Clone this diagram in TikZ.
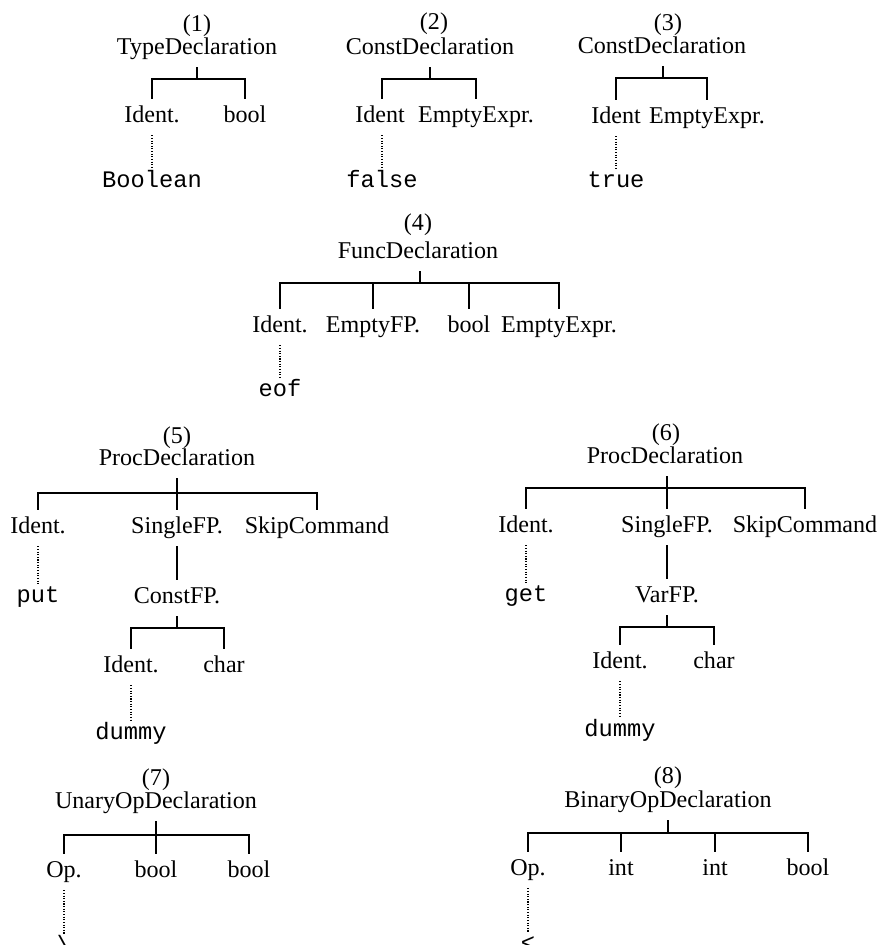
\documentclass[tikz,border=0pt]{standalone}
\usepackage{fontspec}
\setmainfont{Liberation Serif}
\setmonofont{Liberation Mono}

\tikzset{
  cat/.style={font=\fontsize{13.7}{16}\selectfont, inner xsep=1pt, inner ysep=2pt,
    text height=11.6pt, text depth=4.8pt},
  leaf/.style={font=\fontsize{13.5}{16}\selectfont\ttfamily, inner xsep=1pt, inner ysep=2pt,
    text height=8.4pt, text depth=3pt},
  numlabel/.style={font=\fontsize{13.7}{16}\selectfont, inner sep=1pt},
  branch/.style={line width=1.2pt},
  dotline/.style={line width=0.6pt, dash pattern=on 0.6pt off 0.9pt}
}

\begin{document}
\begin{tikzpicture}[x=0.02cm, y=-0.02cm]
    \useasboundingbox (0,0) rectangle (882,945);

    \foreach \n/\x/\y in {1/197/26, 2/434/24, 3/668/25, 4/418/225,
                          5/177/438, 6/666/435, 7/156/780, 8/668/778} {
      \node[numlabel] (n\n) at (\x,\y) {(\n)};
    }

    \foreach \n/\x/\y/\t in {1/197/49/TypeDeclaration, 2/430/49/ConstDeclaration,
                             3/662/48/ConstDeclaration, 4/418/253/FuncDeclaration,
                             5/177/460/ProcDeclaration, 6/665/458/ProcDeclaration,
                             7/156/803/UnaryOpDeclaration, 8/668/802/BinaryOpDeclaration} {
      \node[cat] (t\n) at (\x,\y) {\t};
    }

    \foreach \n/\x/\y in {1/197/79, 2/430/79, 3/663/78, 4/420/283,
                          5/177/493, 6/667/488, 7/156/835, 8/668/833} {
      \coordinate (b\n) at (\x,\y);
      \draw[branch] (b\n |- t\n.south) -- (b\n);
    }

    % (1)
    \node[cat] (id1) at (152,117) {Ident.};
    \node[cat] (ty1) at (245,117) {bool};
    \node[leaf] (lf1) at (152,183) {Boolean};
    \draw[branch] (id1.north) |- (b1) -| (ty1.north);
    \draw[dotline] (id1.south) -- (lf1.north);

    % (2)
    \node[cat] (id2) at (380,117) {Ident};
    \node[cat] (ex2) at (476,117) {EmptyExpr.};
    \node[leaf] (lf2) at (382,183) {false};
    \draw[branch] (lf2.north |- id2.north) |- (b2) -| (ex2.north);
    \draw[dotline] (lf2.north |- id2.south) -- (lf2.north);

    % (3)
    \node[cat] (id3) at (616,118) {Ident};
    \node[cat] (ex3) at (707,118) {EmptyExpr.};
    \node[leaf] (lf3) at (616,183) {true};
    \draw[branch] (id3.north) |- (b3) -| (ex3.north);
    \draw[dotline] (id3.south) -- (lf3.north);

    % (4)
    \node[cat] (id4) at (280,327) {Ident.};
    \node[cat] (fp4) at (373,327) {EmptyFP.};
    \node[cat] (ty4) at (469,327) {bool};
    \node[cat] (ex4) at (559,327) {EmptyExpr.};
    \node[leaf] (lf4) at (280,392) {eof};
    \draw[branch] (id4.north) |- (b4) -| (ex4.north);
    \foreach \c in {fp4, ty4} {
      \draw[branch] (b4 -| \c.north) -- (\c.north);
    }
    \draw[dotline] (id4.south) -- (lf4.north);

    % (5)
    \node[cat] (id5) at (38,528) {Ident.};
    \node[cat] (sg5) at (177,528) {SingleFP.};
    \node[cat] (sk5) at (317,528) {SkipCommand};
    \node[leaf] (lf5) at (38,598) {put};
    \node[cat] (cf5) at (177,598) {ConstFP.};
    \coordinate (bb5) at (177,628);
    \node[cat] (ia5) at (131,667) {Ident.};
    \node[cat] (ch5) at (224,667) {char};
    \node[leaf] (du5) at (131,735) {dummy};
    \draw[branch] (id5.north) |- (b5) -| (sk5.north);
    \draw[branch] (b5) -- (sg5.north);
    \draw[branch] (sg5.south) -- (cf5.north);
    \draw[branch] (cf5.south) -- (bb5);
    \draw[branch] (ia5.north) |- (bb5) -| (ch5.north);
    \draw[dotline] (id5.south) -- (lf5.north);
    \draw[dotline] (ia5.south) -- (du5.north);

    % (6)
    \node[cat] (id6) at (526,527) {Ident.};
    \node[cat] (sg6) at (667,527) {SingleFP.};
    \node[cat] (sk6) at (805,527) {SkipCommand};
    \node[leaf] (lf6) at (526,597) {get};
    \node[cat] (vf6) at (667,597) {VarFP.};
    \coordinate (bb6) at (667,627);
    \node[cat] (ia6) at (620,663) {Ident.};
    \node[cat] (ch6) at (714,663) {char};
    \node[leaf] (du6) at (620,732) {dummy};
    \draw[branch] (id6.north) |- (b6) -| (sk6.north);
    \draw[branch] (b6) -- (sg6.north);
    \draw[branch] (sg6.south) -- (vf6.north);
    \draw[branch] (vf6.south) -- (bb6);
    \draw[branch] (ia6.north) |- (bb6) -| (ch6.north);
    \draw[dotline] (id6.south) -- (lf6.north);
    \draw[dotline] (ia6.south) -- (du6.north);

    % (7)
    \node[cat] (op7) at (64,872) {Op.};
    \node[cat] (a7) at (156,872) {bool};
    \node[cat] (r7) at (249,872) {bool};
    \node[leaf] (lf7) at (64,948) {\textbackslash};
    \draw[branch] (op7.north) |- (b7) -| (r7.north);
    \draw[branch] (b7) -- (a7.north);
    \draw[dotline] (op7.south) -- (lf7.north);

    % (8)
    \node[cat] (op8) at (528,870) {Op.};
    \node[cat] (a8) at (621,870) {int};
    \node[cat] (c8) at (715,870) {int};
    \node[cat] (r8) at (808,870) {bool};
    \node[leaf] (lf8) at (528,946) {<};
    \draw[branch] (op8.north) |- (b8) -| (r8.north);
    \foreach \c in {a8, c8} {
      \draw[branch] (b8 -| \c.north) -- (\c.north);
    }
    \draw[dotline] (op8.south) -- (lf8.north);
\end{tikzpicture}
\end{document}
